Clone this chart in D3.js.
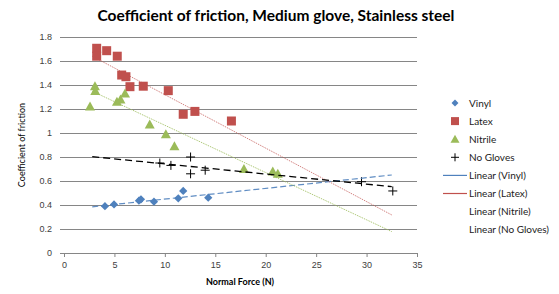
<!DOCTYPE html>
<html>
<head>
<meta charset="utf-8">
<script src="https://cdn.jsdelivr.net/npm/d3@7"></script>
<style>
  body { margin: 0; background: #fff; }
  svg { font-family: Lato, "Liberation Sans", Arial, sans-serif; }
</style>
</head>
<body>
<div id="chart"></div>
<script>
// ---- data ----
const vinylX = [4.06, 4.96, 7.43, 7.63, 8.92, 11.33, 11.82, 14.3];
const vinylY = [0.39, 0.405, 0.436, 0.447, 0.428, 0.456, 0.517, 0.461];

const latexX = [3.24, 4.23, 3.24, 5.28, 5.72, 6.14, 6.54, 7.86, 10.34, 11.82, 12.98, 16.6];
const latexY = [1.706, 1.686, 1.64, 1.64, 1.483, 1.469, 1.386, 1.39, 1.353, 1.156, 1.18, 1.10];

const nitrileX = [3.07, 3.1, 2.58, 5.25, 5.6, 6.05, 8.5, 10.1, 10.95, 17.84, 20.7, 21.2];
const nitrileY = [1.39, 1.35, 1.22, 1.26, 1.28, 1.33, 1.07, 0.99, 0.89, 0.70, 0.68, 0.66];

const noGlovesX = [9.5, 10.6, 12.55, 12.55, 14.0, 29.5, 32.6];
const noGlovesY = [0.75, 0.73, 0.80, 0.66, 0.69, 0.594, 0.517];

// trend lines (start / end)
const trendX = [2.8, 32.5];
const vinylTrend = [0.385, 0.65];
const latexTrend = [1.64, 0.317];
const nitrileTrend = [1.348, 0.178];
const noGlovesTrend = [0.803, 0.553];

const xTicks = [0, 5, 10, 15, 20, 25, 30, 35];
const yTicks = [0, 0.2, 0.4, 0.6, 0.8, 1, 1.2, 1.4, 1.6, 1.8];

const legendLabels = ["Vinyl", "Latex", "Nitrile", "No Gloves",
  "Linear (Vinyl)", "Linear (Latex)", "Linear (Nitrile)", "Linear (No Gloves)"];

// ---- setup ----
const W = 559, H = 294;
const svg = d3.select("#chart").append("svg")
  .attr("width", W).attr("height", H);

const x = d3.scaleLinear().domain([0, 35]).range([64, 417]);
const y = d3.scaleLinear().domain([0, 1.8]).range([253, 37]);

const blue = "#4F81BD", red = "#C0504D", green = "#9BBB59", black = "#000";

// title
svg.append("text")
  .attr("x", 276).attr("y", 21)
  .attr("text-anchor", "middle")
  .style("font-weight", "bold")
  .style("font-size", "15.5px")
  .text("Coefficient of friction, Medium glove, Stainless steel");

// y axis + gridlines
const yAxis = svg.append("g")
  .attr("transform", "translate(60,0)")
  .call(d3.axisLeft(y).tickValues(yTicks).tickSize(-357).tickPadding(8)
    .tickFormat(d => d3.format("~g")(d)));
yAxis.select(".domain").remove();
yAxis.selectAll("line").attr("stroke", "#868686");
yAxis.selectAll("text").style("font-size", "9px").attr("fill", "#404040");

// x axis
const xAxis = svg.append("g")
  .attr("transform", "translate(0,253)")
  .call(d3.axisBottom(x).tickValues(xTicks).tickSize(4).tickPadding(5));
xAxis.select(".domain").remove();
xAxis.selectAll("line").attr("stroke", "#868686");
xAxis.selectAll("text").style("font-size", "9px").attr("fill", "#404040");

// axis titles
svg.append("text")
  .attr("x", 240).attr("y", 285)
  .attr("text-anchor", "middle")
  .style("font-weight", "bold").style("font-size", "9px")
  .text("Normal Force (N)");

svg.append("text")
  .attr("transform", "translate(25,145) rotate(-90)")
  .attr("text-anchor", "middle")
  .style("font-size", "9px")
  .text("Coefficient of friction");

// ---- markers ----
const zip = (xs, ys) => xs.map((v, i) => ({ x: v, y: ys[i] }));

svg.append("g").selectAll("path")
  .data(zip(vinylX, vinylY)).join("path")
  .attr("transform", d => `translate(${x(d.x)},${y(d.y)}) rotate(45)`)
  .attr("d", d3.symbol(d3.symbolSquare, 34)())
  .attr("fill", blue);

svg.append("g").selectAll("rect")
  .data(zip(latexX, latexY)).join("rect")
  .attr("x", d => x(d.x) - 4.5).attr("y", d => y(d.y) - 4.5)
  .attr("width", 9).attr("height", 9)
  .attr("fill", red);

svg.append("g").selectAll("path")
  .data(zip(nitrileX, nitrileY)).join("path")
  .attr("d", d => {
    const cx = x(d.x), cy = y(d.y);
    return `M${cx},${cy - 5}L${cx + 5},${cy + 4}L${cx - 5},${cy + 4}Z`;
  })
  .attr("fill", green);

svg.append("g").selectAll("path")
  .data(zip(noGlovesX, noGlovesY)).join("path")
  .attr("d", d => {
    const cx = x(d.x), cy = y(d.y);
    return `M${cx - 4.5},${cy}H${cx + 4.5}M${cx},${cy - 4.5}V${cy + 4.5}`;
  })
  .attr("stroke", black).attr("stroke-width", 1).attr("fill", "none");

// ---- trend lines ----
const trends = [
  { vals: vinylTrend, color: blue, dash: "6,3", w: 1.2, op: 0.9 },
  { vals: latexTrend, color: red, dash: "1.5,1", w: 1, op: 0.7 },
  { vals: nitrileTrend, color: green, dash: "1.5,1", w: 1, op: 0.8 },
  { vals: noGlovesTrend, color: black, dash: "7,4", w: 1.3, op: 1 }
];
const line = d3.line().x(d => x(d[0])).y(d => y(d[1]));
trends.forEach(t => {
  svg.append("path")
    .datum(trendX.map((v, i) => [v, t.vals[i]]))
    .attr("d", line)
    .attr("fill", "none")
    .attr("stroke", t.color)
    .attr("stroke-width", t.w)
    .attr("stroke-dasharray", t.dash)
    .attr("opacity", t.op);
});

// ---- legend ----
const legend = svg.append("g");
legendLabels.forEach((lab, i) => {
  const cy = 103 + i * 18.1;
  const g = legend.append("g");
  if (i === 0) g.append("path").attr("d", d3.symbol(d3.symbolSquare, 24)())
    .attr("transform", `translate(455,${cy}) rotate(45)`).attr("fill", blue);
  if (i === 1) g.append("rect").attr("x", 451).attr("y", cy - 4)
    .attr("width", 8).attr("height", 8).attr("fill", red);
  if (i === 2) g.append("path")
    .attr("d", `M455,${cy - 4.5}L459.5,${cy + 3.5}L450.5,${cy + 3.5}Z`).attr("fill", green);
  if (i === 3) g.append("path")
    .attr("d", `M451,${cy}H459M455,${cy - 4}V${cy + 4}`).attr("stroke", black);
  if (i === 4) g.append("line").attr("x1", 443).attr("x2", 467)
    .attr("y1", cy).attr("y2", cy).attr("stroke", blue).attr("stroke-width", 1.2);
  if (i === 5) g.append("line").attr("x1", 443).attr("x2", 467)
    .attr("y1", cy).attr("y2", cy).attr("stroke", red).attr("stroke-width", 1.2);
  g.append("text")
    .attr("x", 469).attr("y", cy).attr("dy", "0.35em")
    .style("font-size", "10px").attr("fill", "#222")
    .text(lab);
});
</script>
</body>
</html>
